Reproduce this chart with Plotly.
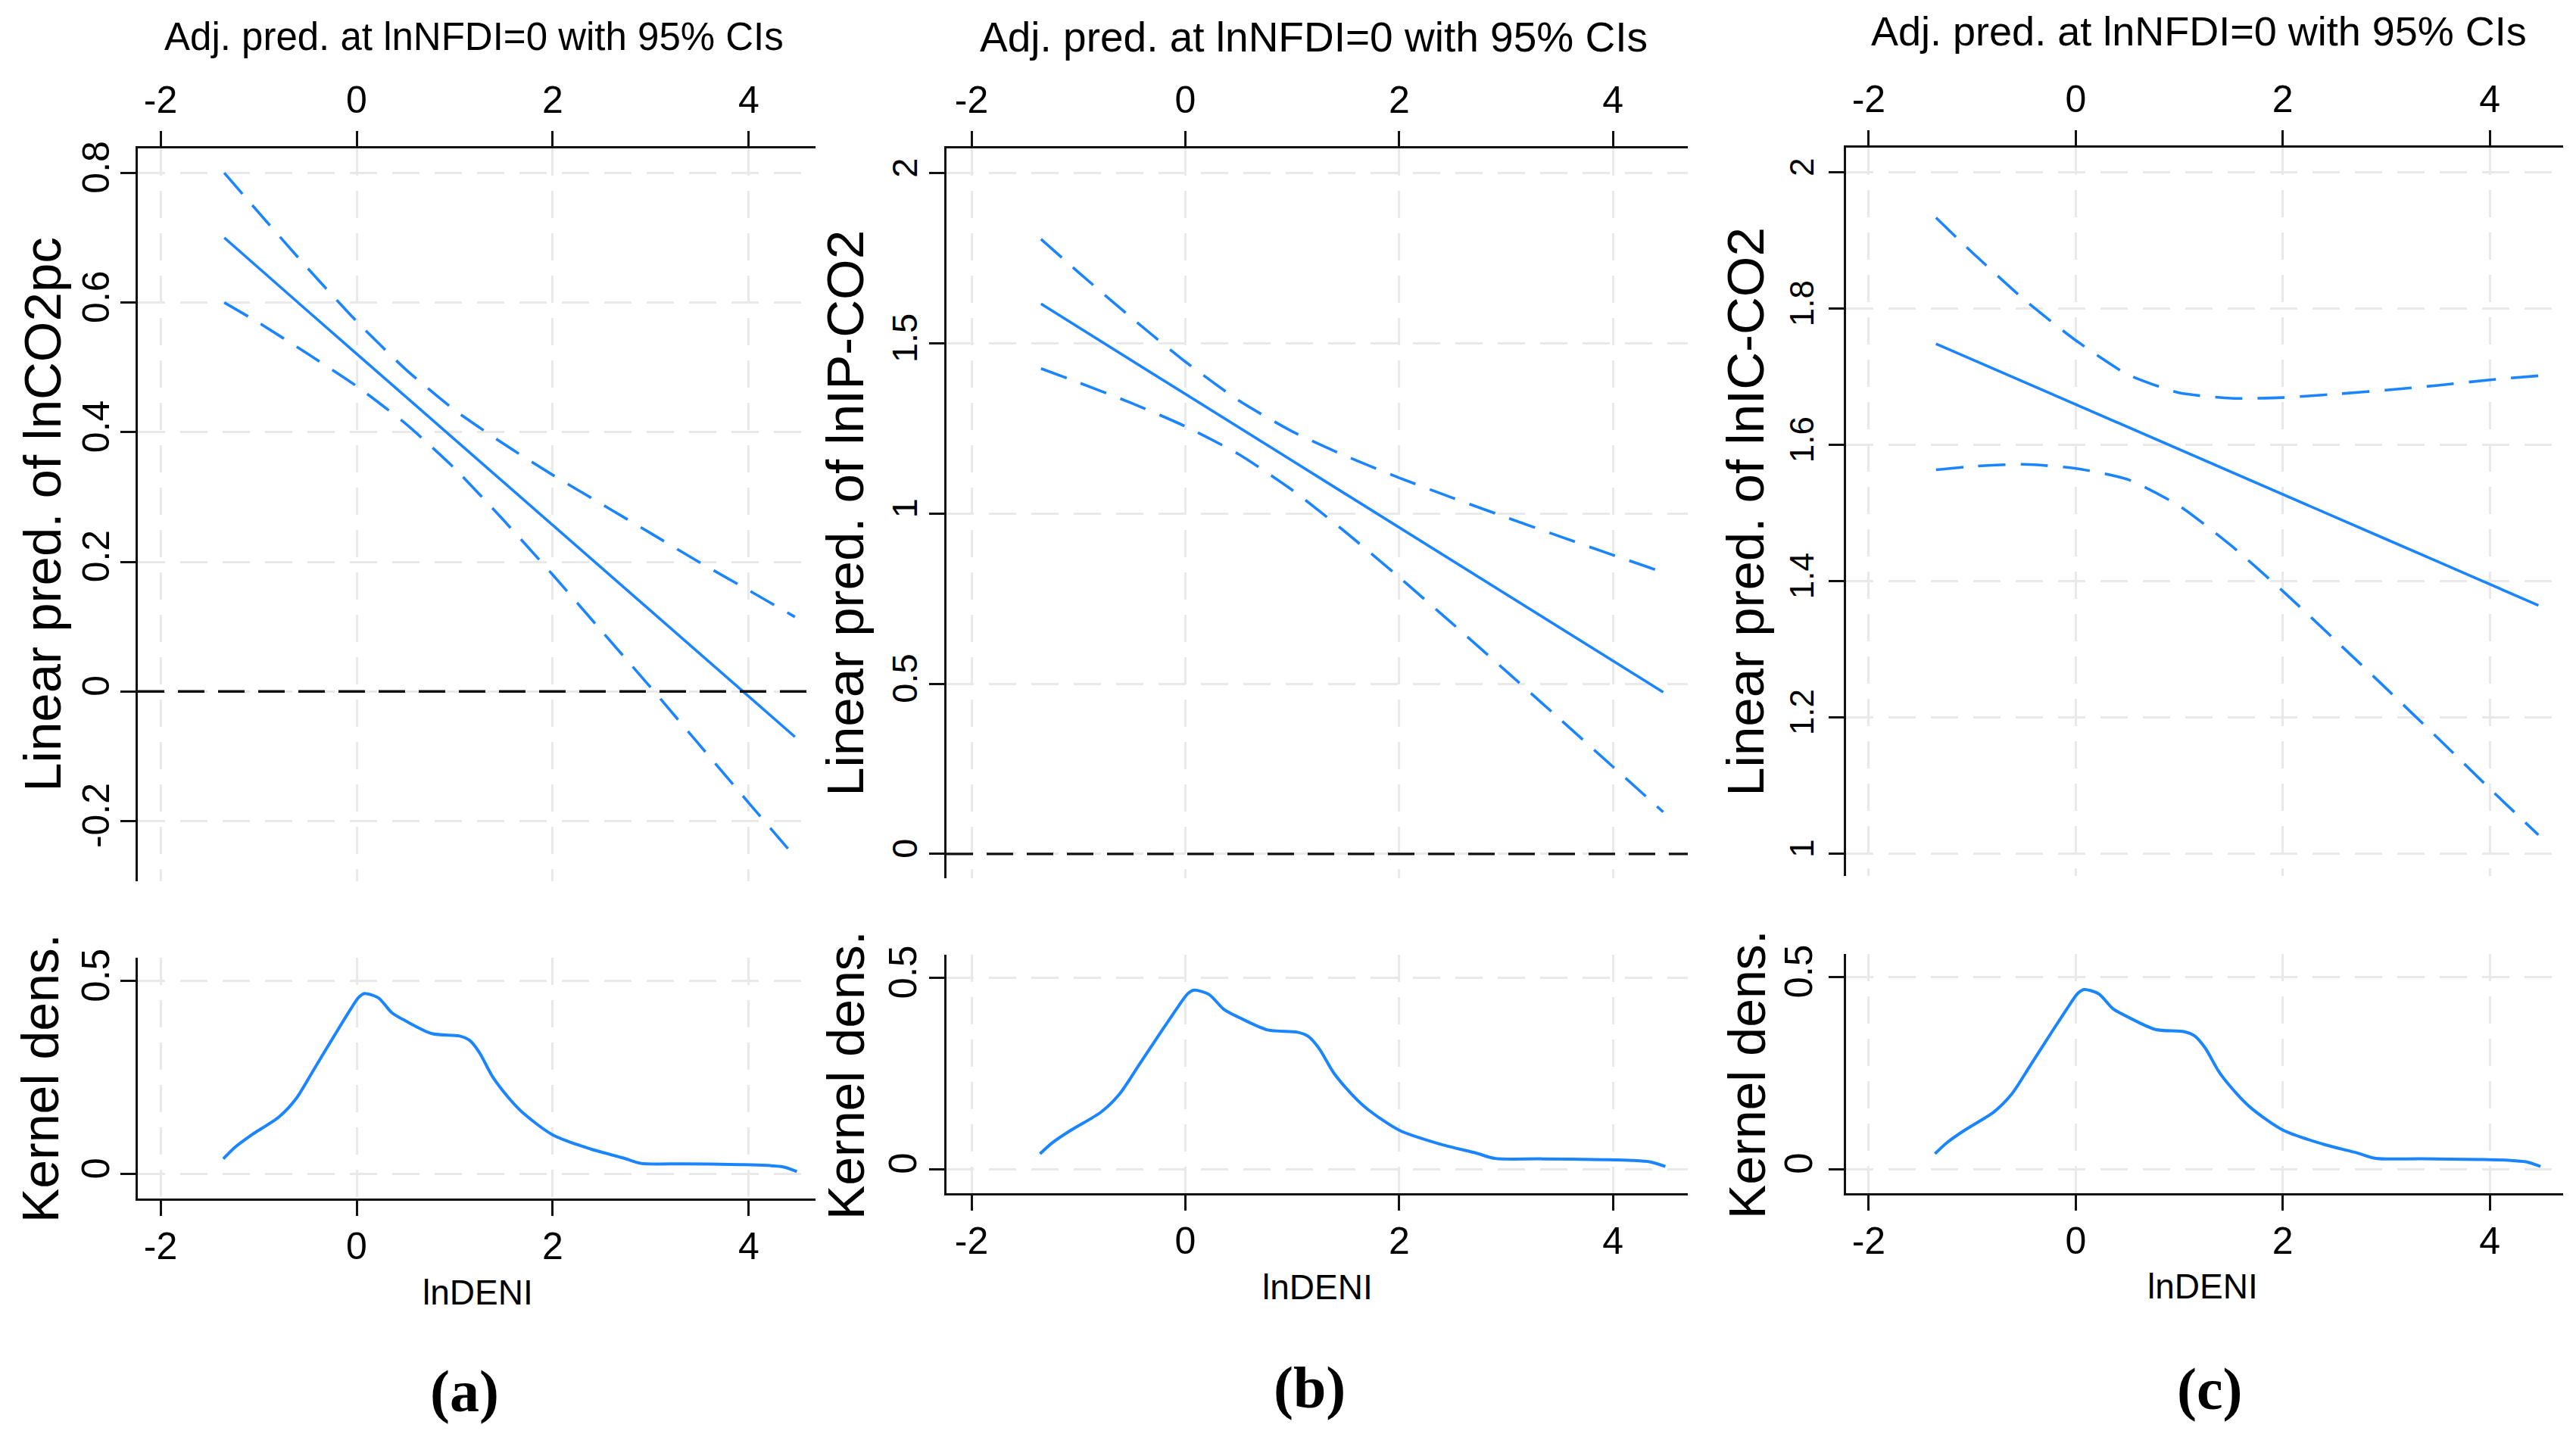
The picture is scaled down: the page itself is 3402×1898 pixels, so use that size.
import plotly.graph_objects as go

W, H = 3402, 1898
OFF = 8  # page margin around the plot div
BLUE = "#1a85ff"
SANS = "Liberation Sans, Arial, sans-serif"
SERIF = "Liberation Serif, Times New Roman, serif"

# ---------------- data ----------------
x_pred = [-1.35, -1.0, -0.5, 0.0, 0.5, 1.0, 1.5, 2.0, 2.5, 3.0, 3.5, 4.0, 4.47]

fit_a = [0.700, 0.654, 0.587, 0.521, 0.455, 0.389, 0.323, 0.257, 0.191, 0.125, 0.058, -0.008, -0.070]
hi_a = [0.800, 0.739, 0.653, 0.571, 0.497, 0.434, 0.382, 0.334, 0.289, 0.244, 0.199, 0.156, 0.115]
lo_a = [0.600, 0.569, 0.521, 0.471, 0.413, 0.344, 0.264, 0.180, 0.093, 0.006, -0.083, -0.172, -0.255]

fit_b = [1.616, 1.547, 1.449, 1.351, 1.253, 1.155, 1.057, 0.959, 0.861, 0.763, 0.665, 0.567, 0.475]
hi_b = [1.806, 1.709, 1.574, 1.446, 1.332, 1.241, 1.169, 1.105, 1.046, 0.989, 0.933, 0.878, 0.827]
lo_b = [1.426, 1.385, 1.324, 1.256, 1.174, 1.069, 0.945, 0.813, 0.676, 0.537, 0.397, 0.256, 0.123]

fit_c = [1.748, 1.725, 1.692, 1.659, 1.626, 1.593, 1.560, 1.527, 1.494, 1.461, 1.428, 1.395, 1.364]
hi_c = [1.933, 1.882, 1.813, 1.753, 1.703, 1.676, 1.668, 1.669, 1.674, 1.680, 1.687, 1.695, 1.701]
lo_c = [1.563, 1.568, 1.571, 1.565, 1.549, 1.510, 1.452, 1.385, 1.314, 1.242, 1.169, 1.095, 1.027]

x_dens = [-1.36, -1.24, -1.07, -0.79, -0.62, -0.43, -0.23, -0.06, 0.02, 0.08, 0.22, 0.36, 0.50,
          0.77, 1.05, 1.15, 1.25, 1.39, 1.56, 1.70, 2.00, 2.39, 2.72, 2.90, 3.34, 3.90, 4.18, 4.35, 4.49]
y_dens = [0.040, 0.070, 0.102, 0.149, 0.195, 0.274, 0.358, 0.428, 0.458, 0.468, 0.457, 0.418, 0.397,
          0.364, 0.358, 0.347, 0.316, 0.251, 0.195, 0.158, 0.102, 0.065, 0.042, 0.028, 0.027, 0.025,
          0.023, 0.019, 0.007]

x_ticks = [-2, 0, 2, 4]
x_ticklabels = ["-2", "0", "2", "4"]
y_ticks_a = [-0.2, 0, 0.2, 0.4, 0.6, 0.8]
y_labels_a = ["-0.2", "0", "0.2", "0.4", "0.6", "0.8"]
y_ticks_b = [0, 0.5, 1, 1.5, 2]
y_labels_b = ["0", "0.5", "1", "1.5", "2"]
y_ticks_c = [1, 1.2, 1.4, 1.6, 1.8, 2]
y_labels_c = ["1", "1.2", "1.4", "1.6", "1.8", "2"]
dens_ticks = [0, 0.5]
dens_labels = ["0", "0.5"]

top_title = "Adj. pred. at lnNFDI=0 with 95% CIs"
y_titles = ["Linear pred. of lnCO2pc", "Linear pred. of lnIP-CO2", "Linear pred. of lnIC-CO2"]
dens_title = "Kernel dens."
x_title = "lnDENI"
panel_tags = ["(a)", "(b)", "(c)"]

# ---------------- layout geometry (pixels in the final picture) ----------------
panels = [
    dict(fit=fit_a, hi=hi_a, lo=lo_a, yt=y_ticks_a, yl=y_labels_a, zero=True,
         xpx=(182, 1077), upy=(185, 1159), lowy=(1261, 1581),
         xr=[-2.232, 4.680], yr=[-0.2925, 0.838],
         tcx=626, tcy=37, tfs=51, ytx=57, ktx=53, kty=1421, lx=631, ly=1706, tagx=613, tagy=1837,
         tickfs=50, ystand=-5),
    dict(fit=fit_b, hi=hi_b, lo=lo_b, yt=y_ticks_b, yl=y_labels_b, zero=True,
         xpx=(1250, 2229), upy=(185, 1155), lowy=(1257, 1574),
         xr=[-2.234, 4.700], yr=[-0.071, 2.073],
         tcx=1735, tcy=37, tfs=55, ytx=1117, ktx=1117, kty=1417, lx=1740, ly=1699, tagx=1729, tagy=1832,
         tickfs=47, ystand=-3),
    dict(fit=fit_c, hi=hi_c, lo=lo_c, yt=y_ticks_c, yl=y_labels_c, zero=False,
         xpx=(2438, 3385), upy=(184, 1152), lowy=(1256, 1574),
         xr=[-2.219, 4.709], yr=[0.967, 2.036],
         tcx=2904, tcy=29, tfs=54, ytx=2306, ktx=2307, kty=1416, lx=2909, ly=1698, tagx=2918, tagy=1834,
         tickfs=44, ystand=2),
]
dens_range = [-0.063, 0.5605]


def px_x(v):
    return (v - OFF) / W


def px_y(v):
    return 1 - (v - OFF) / H


def ax_id(letter, n):
    return letter if n == 1 else f"{letter}{n}"


fig = go.Figure()
layout = dict(width=W, height=H, margin=dict(l=0, r=0, t=0, b=0),
              paper_bgcolor="white", plot_bgcolor="white", showlegend=False,
              font=dict(family=SANS, color="black"))
annotations = []
shapes = []

grid = dict(showgrid=True, gridcolor="#e9e9e9", gridwidth=3, griddash="36px,20px", zeroline=False)
axline = dict(showline=True, linecolor="#111111", linewidth=3, ticks="outside", ticklen=20,
              tickwidth=3, tickcolor="#111111", mirror=False)

for i, p in enumerate(panels):
    nu = 2 * i + 1
    nl = 2 * i + 2
    xu, yu = ax_id("x", nu), ax_id("y", nu)
    xl, yl = ax_id("x", nl), ax_id("y", nl)
    kxu, kyu = "xaxis" + ("" if nu == 1 else str(nu)), "yaxis" + ("" if nu == 1 else str(nu))
    kxl, kyl = f"xaxis{nl}", f"yaxis{nl}"
    xdom = [px_x(p["xpx"][0]), px_x(p["xpx"][1])]

    # upper panel: prediction with CIs
    fig.add_trace(go.Scatter(x=x_pred, y=p["hi"], mode="lines", xaxis=xu, yaxis=yu,
                             line=dict(color=BLUE, width=3.6, dash="36px,20px", shape="spline", smoothing=0.6)))
    fig.add_trace(go.Scatter(x=x_pred, y=p["lo"], mode="lines", xaxis=xu, yaxis=yu,
                             line=dict(color=BLUE, width=3.6, dash="36px,20px", shape="spline", smoothing=0.6)))
    fig.add_trace(go.Scatter(x=x_pred, y=p["fit"], mode="lines", xaxis=xu, yaxis=yu,
                             line=dict(color=BLUE, width=3.6)))
    # lower panel: kernel density
    fig.add_trace(go.Scatter(x=x_dens, y=y_dens, mode="lines", xaxis=xl, yaxis=yl,
                             line=dict(color=BLUE, width=4, shape="spline", smoothing=0.8)))

    layout[kxu] = dict(domain=xdom, range=p["xr"], anchor=yu, side="top",
                       tickvals=x_ticks, ticktext=x_ticklabels,
                       tickfont=dict(size=50, family=SANS), ticklabelstandoff=4,
                       **grid, **axline)
    layout[kyu] = dict(domain=[px_y(p["upy"][1]), px_y(p["upy"][0])], range=p["yr"],
                       anchor=xu, side="left", tickvals=p["yt"], ticktext=p["yl"],
                       tickangle=-90, tickfont=dict(size=p["tickfs"], family=SANS),
                       ticklabelstandoff=p["ystand"], **grid, **axline)
    layout[kxl] = dict(domain=xdom, range=p["xr"], anchor=yl, side="bottom",
                       tickvals=x_ticks, ticktext=x_ticklabels,
                       tickfont=dict(size=50, family=SANS), ticklabelstandoff=-3,
                       **grid, **axline)
    layout[kyl] = dict(domain=[px_y(p["lowy"][1]), px_y(p["lowy"][0])], range=dens_range,
                       anchor=xl, side="left", tickvals=dens_ticks, ticktext=dens_labels,
                       tickangle=-90, tickfont=dict(size=51, family=SANS),
                       ticklabelstandoff=p["ystand"], **grid, **axline)

    if p["zero"]:
        shapes.append(dict(type="line", xref=f"{xu} domain", yref=yu, x0=0, x1=1, y0=0, y1=0,
                           line=dict(color="#111111", width=3.4, dash="35px,18px"), layer="above"))

    upc = (p["upy"][0] + p["upy"][1]) / 2
    annotations += [
        dict(text=top_title, x=px_x(p["tcx"]), y=px_y(p["tcy"]), xref="paper", yref="paper",
             xanchor="center", yanchor="middle", showarrow=False, font=dict(size=p["tfs"], family=SANS)),
        dict(text=y_titles[i], x=px_x(p["ytx"]), y=px_y(upc), xref="paper", yref="paper",
             xanchor="center", yanchor="middle", textangle=-90, showarrow=False,
             font=dict(size=69, family=SANS)),
        dict(text=dens_title, x=px_x(p["ktx"]), y=px_y(p["kty"]), xref="paper", yref="paper",
             xanchor="center", yanchor="middle", textangle=-90, showarrow=False,
             font=dict(size=68, family=SANS)),
        dict(text=x_title, x=px_x(p["lx"]), y=px_y(p["ly"]), xref="paper", yref="paper",
             xanchor="center", yanchor="middle", showarrow=False, font=dict(size=46, family=SANS)),
        dict(text="<b>" + panel_tags[i] + "</b>", x=px_x(p["tagx"]), y=px_y(p["tagy"]),
             xref="paper", yref="paper", xanchor="center", yanchor="middle", showarrow=False,
             font=dict(size=78, family=SERIF)),
    ]

layout["annotations"] = annotations
layout["shapes"] = shapes
fig.update_layout(**layout)
fig.write_html("out.html")
